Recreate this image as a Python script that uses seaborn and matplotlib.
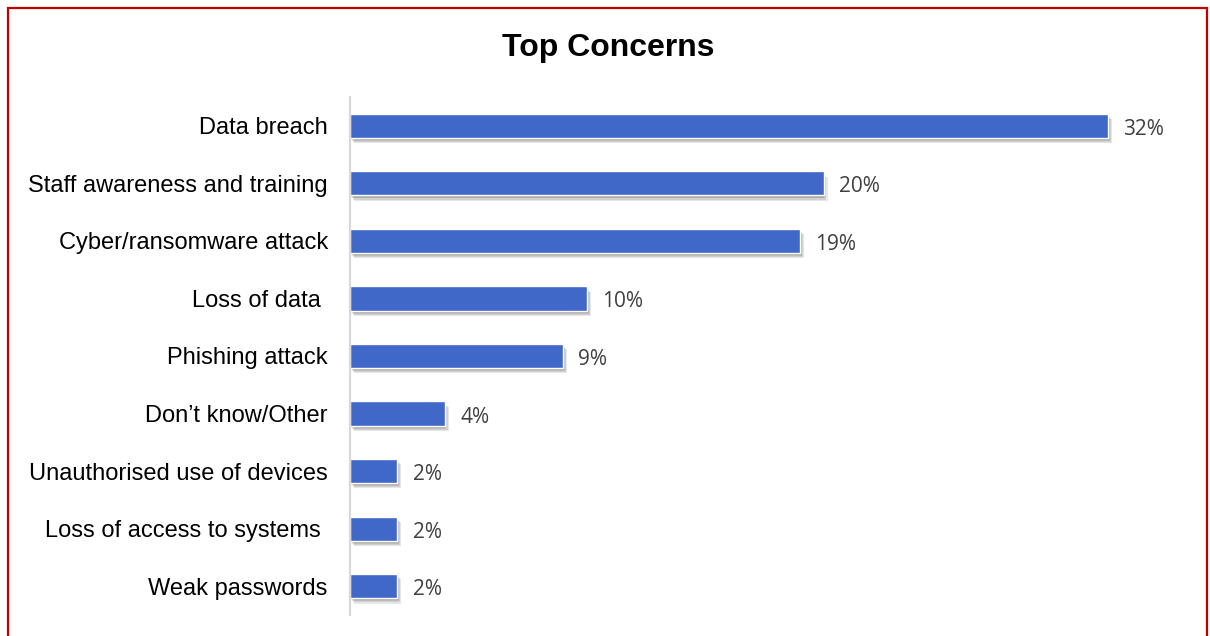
import matplotlib
matplotlib.use("Agg")
import matplotlib.pyplot as plt
import matplotlib.patheffects as pe
from matplotlib.patches import Rectangle
import seaborn as sns
import pandas as pd

categories = ["Data breach", "Staff awareness and training", "Cyber/ransomware attack",
              "Loss of data ", "Phishing attack", "Don\u2019t know/Other",
              "Unauthorised use of devices", "Loss of access to systems ", "Weak passwords"]
values = [32, 20, 19, 10, 9, 4, 2, 2, 2]
value_labels = ["32%", "20%", "19%", "10%", "9%", "4%", "2%", "2%", "2%"]

df = pd.DataFrame({"category": categories, "value": values})

sns.set_theme(style="white")
plt.rcParams["font.family"] = ["Liberation Sans", "DejaVu Sans"]

fig = plt.figure(figsize=(12.10, 6.36), dpi=100)
ax = fig.add_axes([350/1210, 1-615/636, (1160-350)/1210, (615-97)/636])

sns.barplot(data=df, y="category", x="value", orient="h", color="#3F68C8",
            width=0.42, saturation=1, ax=ax)

shadow = [pe.SimplePatchShadow(offset=(o, -o - 1), alpha=0.12, shadow_rgbFace="#333333")
          for o in (0.5, 1.2, 2.0, 2.8)]
for p in ax.patches:
    p.set_path_effects(shadow + [pe.Normal()])

ax.set_xlim(0, 34.2)
ax.set_ylim(8.5, -0.5)
ax.set_xlabel("")
ax.set_ylabel("")
ax.set_xticks([])
ax.tick_params(axis="y", length=0, pad=16, labelsize=17, labelcolor="#000000")

for s in ["top", "right", "bottom"]:
    ax.spines[s].set_visible(False)
ax.spines["left"].set_color("#D9D9D9")
ax.spines["left"].set_linewidth(1.6)

anns = ax.bar_label(ax.containers[0], labels=value_labels, padding=11, fontsize=15,
                    color="#404040", family=["Open Sans", "DejaVu Sans"])
for a in anns:
    x, y = a.xyann
    a.xyann = (x, y - 2.5)

fig.text(608/1210, 1-48/636, "Top Concerns", ha="center", va="center",
         fontsize=23, fontweight="bold", color="#000000")

fig.patches.append(Rectangle((8/1210, -0.05), (1207-8)/1210, 1.05 - 8/636,
                             transform=fig.transFigure, fill=False,
                             edgecolor="#C00000", linewidth=1.6))

fig.savefig("out.png", dpi=100)
